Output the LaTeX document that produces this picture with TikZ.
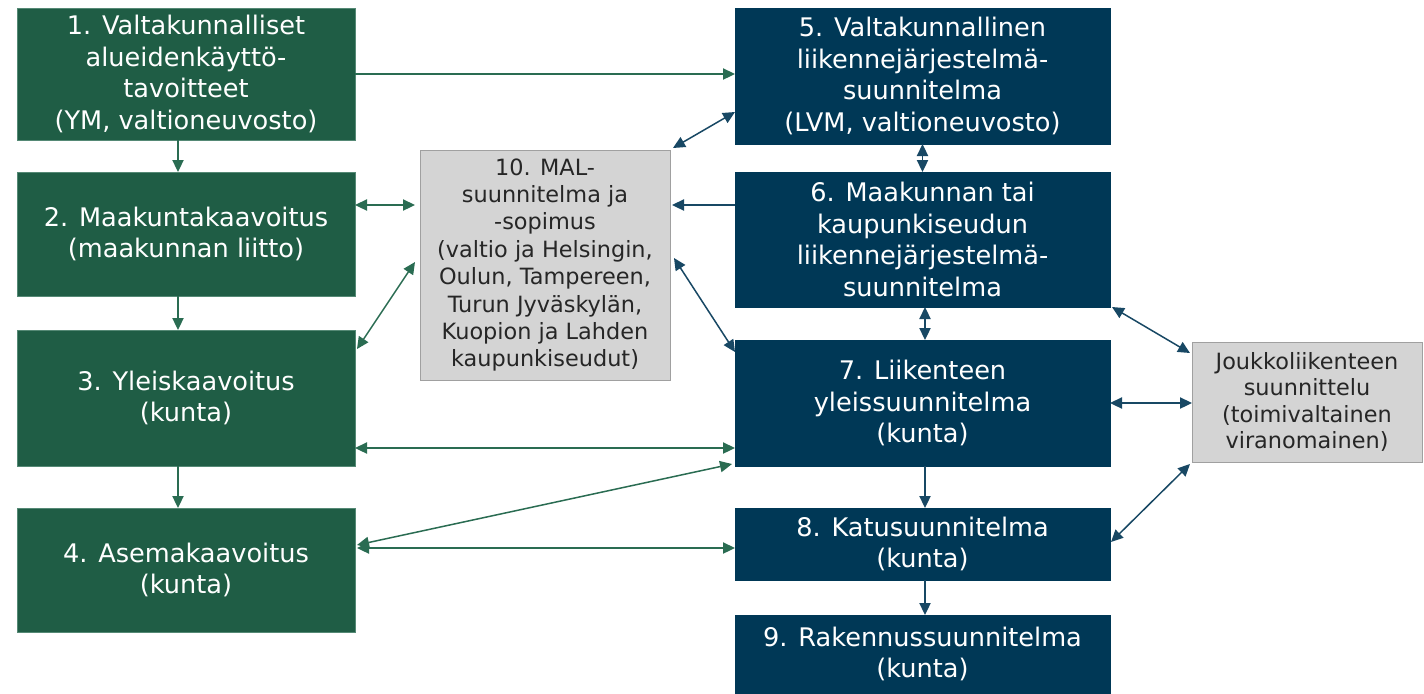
\documentclass[tikz,border=0pt]{standalone}
\usepackage{fontspec}
\setmainfont{DejaVu Sans}
\usetikzlibrary{arrows.meta,calc}

\definecolor{plangreen}{RGB}{31,93,69}
\definecolor{planblue}{RGB}{0,56,86}
\definecolor{linkgreen}{RGB}{42,108,82}
\definecolor{linkblue}{RGB}{24,72,100}
\definecolor{mgray}{RGB}{212,212,212}
\definecolor{mgrayline}{RGB}{160,160,160}

\begin{document}
\begin{tikzpicture}[x=0.5pt,y=-0.5pt,
    box/.style={rectangle,inner sep=0pt,outer sep=0pt,align=center,
        font=\fontsize{12.8}{15.75}\selectfont},
    greenbox/.style={box,fill=plangreen,draw=linkgreen!80!white,text=white,minimum width=169pt},
    bluebox/.style={box,fill=planblue,draw=planblue,text=white,minimum width=187.5pt},
    graybox/.style={box,fill=mgray,draw=mgrayline,text=black!85,
        font=\fontsize{11.2}{13.7}\selectfont},
    tip/.tip={Triangle[length=6pt,width=5.6pt]},
    oneway/.style={line width=0.75pt,-tip},
    twoway/.style={line width=0.75pt,tip-tip}]
    \useasboundingbox (0,0) rectangle (1424,693);

    % left column
    \node (b1) at (186,74) [greenbox,minimum height=66pt] {1. Valtakunnalliset\\alueidenkäyttö-\\tavoitteet\\(YM, valtioneuvosto)};
    \node (b2) at (186,234) [greenbox,minimum height=62pt] {2. Maakuntakaavoitus\\(maakunnan liitto)};
    \node (b3) at (186,398) [greenbox,minimum height=68pt] {3. Yleiskaavoitus\\(kunta)};
    \node (b4) at (186,570) [greenbox,minimum height=62pt] {4. Asemakaavoitus\\(kunta)};

    % right column
    \node (b5) at (922.5,76) [bluebox,minimum height=68pt] {5. Valtakunnallinen\\liikennejärjestelmä-\\suunnitelma\\(LVM, valtioneuvosto)};
    \node (b6) at (922.5,239.5) [bluebox,minimum height=67.5pt] {6. Maakunnan tai\\kaupunkiseudun\\liikennejärjestelmä-\\suunnitelma};
    \node (b7) at (922.5,403) [bluebox,minimum height=63pt] {7. Liikenteen\\yleissuunnitelma\\(kunta)};
    \node (b8) at (922.5,544) [bluebox,minimum height=36pt] {8. Katusuunnitelma\\(kunta)};
    \node (b9) at (922.5,654) [bluebox,minimum height=39pt] {9. Rakennussuunnitelma\\(kunta)};

    % gray boxes
    \node (b10) at (545,265) [graybox,minimum width=125pt,minimum height=115pt] {10. MAL-\\suunnitelma ja\\-sopimus\\(valtio ja Helsingin,\\Oulun, Tampereen,\\Turun Jyväskylän,\\Kuopion ja Lahden\\kaupunkiseudut)};
    \node (jl) at (1307,402) [graybox,minimum width=115pt,minimum height=60pt,
        font=\fontsize{11.2}{13.2}\selectfont] {Joukkoliikenteen\\suunnittelu\\(toimivaltainen\\viranomainen)};

    % green links
    \draw[oneway,linkgreen] (b1.east) -- (b1.east -| b5.west);
    \draw[oneway,linkgreen] ($(b1.south)+(-8,0)$) -- ($(b2.north)+(-8,0)$);
    \draw[oneway,linkgreen] ($(b2.south)+(-8,0)$) -- ($(b3.north)+(-8,0)$);
    \draw[oneway,linkgreen] ($(b3.south)+(-8,0)$) -- ($(b4.north)+(-8,0)$);
    \draw[twoway,linkgreen] ($(b2.east)+(0,-29)$) -- ($(b10.west)+(-5,-60)$);
    \draw[twoway,linkgreen] ($(b3.north east)+(2,19)$) -- ($(b10.west)+(-5,-3)$);
    \draw[twoway,linkgreen] ($(b3.east)+(0,50)$) -- ($(b3.east -| b7.west)+(0,50)$);
    \draw[twoway,linkgreen] ($(b4.east)+(2,-25)$) -- ($(b7.south west)+(-3,-2)$);
    \draw[twoway,linkgreen] ($(b4.east)+(2,-22)$) -- ($(b4.east -| b8.west)+(0,-22)$);

    % blue links
    \draw[oneway,linkblue] ($(b6.west)+(0,-34.5)$) -- ($(b10.east)+(2,-60)$);
    \draw[twoway,linkblue] ($(b10.north east)+(3,-2)$) -- ($(b5.west)+(0,36)$);
    \draw[twoway,linkblue] ($(b10.east)+(4,-7)$) -- ($(b7.north west)+(0,12)$);
    \draw[twoway,linkblue] (b5.south) -- (b6.north);
    \draw[twoway,linkblue] ($(b6.south)+(2.5,0)$) -- ($(b7.north)+(2.5,0)$);
    \draw[oneway,linkblue] ($(b7.south)+(2.5,0)$) -- ($(b8.north)+(2.5,0)$);
    \draw[oneway,linkblue] ($(b8.south)+(2.5,0)$) -- ($(b9.north)+(2.5,0)$);
    \draw[twoway,linkblue] ($(b6.south east)+(2,0)$) -- ($(jl.north west)+(-2,11)$);
    \draw[twoway,linkblue] (b7.east) -- (b7.east -| jl.west);
    \draw[twoway,linkblue] ($(b8.east)+(1,-2)$) -- ($(jl.south west)+(-2,2)$);
\end{tikzpicture}
\end{document}
